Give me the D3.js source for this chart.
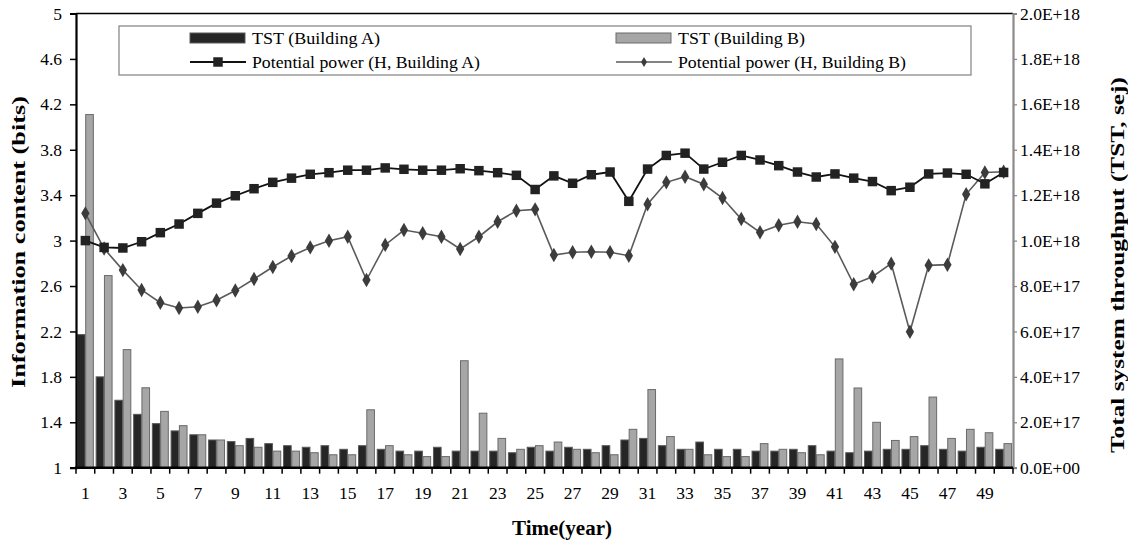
<!DOCTYPE html>
<html>
<head>
<meta charset="utf-8">
<script src="https://cdn.jsdelivr.net/npm/d3@7"></script>
<style>
  html, body { margin: 0; padding: 0; background: #fff; }
  svg { display: block; }
  text { font-family: "Liberation Serif", "Times New Roman", "DejaVu Serif", serif; fill: #000; }
</style>
</head>
<body>
<svg id="chart" width="1128" height="546"></svg>
<script>
// ---------- DATA ----------
const years = d3.range(1, 51);
const tstA = [5.86e17, 4.0e17, 2.97e17, 2.35e17, 1.94e17, 1.62e17, 1.45e17, 1.22e17, 1.15e17, 1.29e17,
              1.06e17, 0.97e17, 0.90e17, 0.97e17, 0.81e17, 0.97e17, 0.81e17, 0.73e17, 0.73e17, 0.90e17,
              0.73e17, 0.73e17, 0.73e17, 0.66e17, 0.90e17, 0.73e17, 0.90e17, 0.81e17, 0.97e17, 1.22e17,
              1.29e17, 0.97e17, 0.81e17, 1.13e17, 0.81e17, 0.81e17, 0.73e17, 0.73e17, 0.81e17, 0.97e17,
              0.73e17, 0.66e17, 0.73e17, 0.81e17, 0.81e17, 0.97e17, 0.81e17, 0.73e17, 0.90e17, 0.81e17];
const tstB = [1.555e18, 8.46e17, 5.2e17, 3.52e17, 2.48e17, 1.85e17, 1.45e17, 1.22e17, 0.97e17, 0.90e17,
              0.73e17, 0.73e17, 0.66e17, 0.57e17, 0.57e17, 2.55e17, 0.97e17, 0.57e17, 0.49e17, 0.49e17,
              4.71e17, 2.40e17, 1.29e17, 0.81e17, 0.97e17, 1.13e17, 0.81e17, 0.66e17, 0.57e17, 1.69e17,
              3.44e17, 1.37e17, 0.81e17, 0.57e17, 0.49e17, 0.49e17, 1.06e17, 0.81e17, 0.66e17, 0.57e17,
              4.79e17, 3.51e17, 2.0e17, 1.2e17, 1.37e17, 3.11e17, 1.29e17, 1.69e17, 1.54e17, 1.06e17];
const hA = [3.00, 2.94, 2.935, 2.99, 3.07, 3.146, 3.24, 3.33, 3.395, 3.457,
            3.513, 3.55, 3.584, 3.598, 3.62, 3.62, 3.64, 3.628, 3.62, 3.62,
            3.633, 3.616, 3.598, 3.575, 3.45, 3.57, 3.505, 3.58, 3.604, 3.346,
            3.63, 3.75, 3.77, 3.63, 3.69, 3.75, 3.71, 3.66, 3.604, 3.56,
            3.587, 3.55, 3.52, 3.44, 3.47, 3.587, 3.595, 3.584, 3.50, 3.60];
const hB = [3.24, 2.93, 2.74, 2.565, 2.453, 2.406, 2.418, 2.474, 2.56, 2.662,
            2.767, 2.864, 2.94, 2.998, 3.034, 2.653, 2.962, 3.093, 3.064, 3.034,
            2.926, 3.034, 3.166, 3.263, 3.275, 2.873, 2.897, 2.902, 2.897, 2.867,
            3.32, 3.513, 3.563, 3.496, 3.375, 3.19, 3.073, 3.135, 3.166, 3.146,
            2.945, 2.615, 2.682, 2.797, 2.198, 2.782, 2.788, 3.408, 3.60, 3.607];
const leftTicks = [1, 1.4, 1.8, 2.2, 2.6, 3, 3.4, 3.8, 4.2, 4.6, 5];
const rightTicks = [0, 2e17, 4e17, 6e17, 8e17, 1e18, 1.2e18, 1.4e18, 1.6e18, 1.8e18, 2e18];
const xTickLabels = years.filter(d => d % 2 === 1);
const seriesNames = ["TST (Building A)", "TST (Building B)",
                     "Potential power (H, Building A)", "Potential power (H, Building B)"];

// ---------- LAYOUT ----------
const L = 76, R = 1013, T = 13.5, B = 467.7;
const svg = d3.select("#chart");

const x = d3.scaleBand().domain(years).range([L, R]).paddingInner(0.15).paddingOuter(0.075);
const xSub = d3.scaleBand().domain([0, 1]).range([0, x.bandwidth()]).paddingInner(0.08);
const yL = d3.scaleLinear().domain([1, 5]).range([B, T]);
const yR = d3.scaleLinear().domain([0, 2e18]).range([B, T]);
const cx = d => x(d) + x.bandwidth() / 2;

// ---------- BARS ----------
const barStyles = [{fill: "#262626", stroke: "#5a5a5a"}, {fill: "#a6a6a6", stroke: "#6a6a6a"}];
[tstA, tstB].forEach((arr, i) => {
  svg.append("g").selectAll("rect").data(arr).join("rect")
    .attr("x", (d, j) => x(years[j]) + xSub(i))
    .attr("y", d => yR(d))
    .attr("width", xSub.bandwidth())
    .attr("height", d => B - yR(d))
    .attr("fill", barStyles[i].fill)
    .attr("stroke", barStyles[i].stroke)
    .attr("stroke-width", 1);
});

// ---------- LINES ----------
const lineGen = d3.line().x((d, j) => cx(years[j])).y(d => yL(d));
svg.append("path").datum(hB).attr("d", lineGen)
  .attr("fill", "none").attr("stroke", "#5a5a5a").attr("stroke-width", 1.6);
svg.append("path").datum(hA).attr("d", lineGen)
  .attr("fill", "none").attr("stroke", "#111").attr("stroke-width", 1.8);

const sq = d3.symbol().type(d3.symbolSquare).size(90);
const dm = d3.symbol().type(d3.symbolDiamond).size(60);
svg.append("g").selectAll("path").data(hB).join("path")
  .attr("d", dm)
  .attr("transform", (d, j) => `translate(${cx(years[j])},${yL(d)})`)
  .attr("fill", "#3c3c3c");
svg.append("g").selectAll("path").data(hA).join("path")
  .attr("d", sq)
  .attr("transform", (d, j) => `translate(${cx(years[j])},${yL(d)})`)
  .attr("fill", "#222");

// ---------- AXES ----------
const fs = "17.5px";
const serif = "Liberation Serif";
svg.append("line").attr("x1", L).attr("x2", R).attr("y1", T).attr("y2", T)
  .attr("stroke", "#000").attr("stroke-width", 1.6);

const gL = svg.append("g").attr("transform", `translate(${L},0)`)
  .call(d3.axisLeft(yL).tickValues(leftTicks).tickSize(6).tickPadding(8)
        .tickFormat(d => d3.format("~g")(d)));
gL.attr("font-family", serif);
gL.select(".domain").attr("stroke", "#000").attr("stroke-width", 2.2);
gL.selectAll(".tick line").attr("stroke", "#000").attr("stroke-width", 1.5);
gL.selectAll(".tick text").style("font-size", fs);

const gR = svg.append("g").attr("transform", `translate(${R},0)`)
  .call(d3.axisRight(yR).tickValues(rightTicks).tickSize(4).tickPadding(3)
        .tickFormat(d => d === 0 ? "0.0E+00" : d.toExponential(1).replace("e+", "E+")));
gR.attr("font-family", serif);
gR.select(".domain").attr("stroke", "#8a8a8a").attr("stroke-width", 2.2);
gR.selectAll(".tick line").attr("stroke", "#8a8a8a").attr("stroke-width", 1.3);
gR.selectAll(".tick text").style("font-size", fs);

// bottom axis: ticks at band boundaries, labels at odd years
const boundaries = years.map(d => x(d) - x.step() * x.paddingInner() / 2).concat([R]);
const gB = svg.append("g");
gB.selectAll("line.tk").data(boundaries).join("line").attr("class", "tk")
  .attr("x1", d => d).attr("x2", d => d).attr("y1", B).attr("y2", B + 6)
  .attr("stroke", "#000").attr("stroke-width", 1.5);
gB.append("line").attr("x1", L - 1).attr("x2", R).attr("y1", B).attr("y2", B)
  .attr("stroke", "#000").attr("stroke-width", 2.6);
gB.selectAll("text").data(xTickLabels).join("text")
  .attr("x", d => cx(d)).attr("y", 499).attr("text-anchor", "middle")
  .style("font-size", fs).text(d => d);

// axis titles
svg.append("text").attr("transform", "translate(25,242) rotate(-90)")
  .attr("text-anchor", "middle").style("font-size", "19px").style("font-weight", "bold")
  .attr("textLength", 292).attr("lengthAdjust", "spacingAndGlyphs")
  .text("Information content  (bits)");
svg.append("text").attr("transform", "translate(1124,265) rotate(-90)")
  .attr("text-anchor", "middle").style("font-size", "19px").style("font-weight", "bold")
  .attr("textLength", 376).attr("lengthAdjust", "spacingAndGlyphs")
  .text("Total system throughput  (TST, sej)");
svg.append("text").attr("x", 562).attr("y", 535).attr("text-anchor", "middle")
  .style("font-size", "20px").style("font-weight", "bold")
  .attr("textLength", 100).attr("lengthAdjust", "spacingAndGlyphs")
  .text("Time(year)");

// ---------- LEGEND ----------
const lg = svg.append("g");
lg.append("rect").attr("x", 119).attr("y", 26).attr("width", 852).attr("height", 49)
  .attr("fill", "#fff").attr("stroke", "#8a8a8a").attr("stroke-width", 1.3);
const cols = [190, 616];
const rows = [38, 62];
const lens = [128, 127, 228, 228];
[0, 1].forEach(i => {
  lg.append("rect").attr("x", cols[i]).attr("y", rows[0] - 5).attr("width", 55).attr("height", 10)
    .attr("fill", barStyles[i].fill).attr("stroke", barStyles[i].stroke).attr("stroke-width", 1);
  lg.append("text").attr("x", cols[i] + 62).attr("y", rows[0] + 6).style("font-size", "17px")
    .attr("textLength", lens[i]).attr("lengthAdjust", "spacingAndGlyphs")
    .text(seriesNames[i]);
});
lg.append("line").attr("x1", cols[0]).attr("x2", cols[0] + 56).attr("y1", rows[1]).attr("y2", rows[1])
  .attr("stroke", "#111").attr("stroke-width", 1.8);
lg.append("path").attr("d", sq).attr("transform", `translate(${cols[0] + 28},${rows[1]})`).attr("fill", "#222");
lg.append("line").attr("x1", cols[1]).attr("x2", cols[1] + 56).attr("y1", rows[1]).attr("y2", rows[1])
  .attr("stroke", "#5a5a5a").attr("stroke-width", 1.6);
lg.append("path").attr("d", d3.symbol().type(d3.symbolDiamond).size(30))
  .attr("transform", `translate(${cols[1] + 28},${rows[1]})`).attr("fill", "#3c3c3c");
[2, 3].forEach((k, i) => {
  lg.append("text").attr("x", cols[i] + 62).attr("y", rows[1] + 6).style("font-size", "17px")
    .attr("textLength", lens[k]).attr("lengthAdjust", "spacingAndGlyphs")
    .text(seriesNames[k]);
});
</script>
</body>
</html>
